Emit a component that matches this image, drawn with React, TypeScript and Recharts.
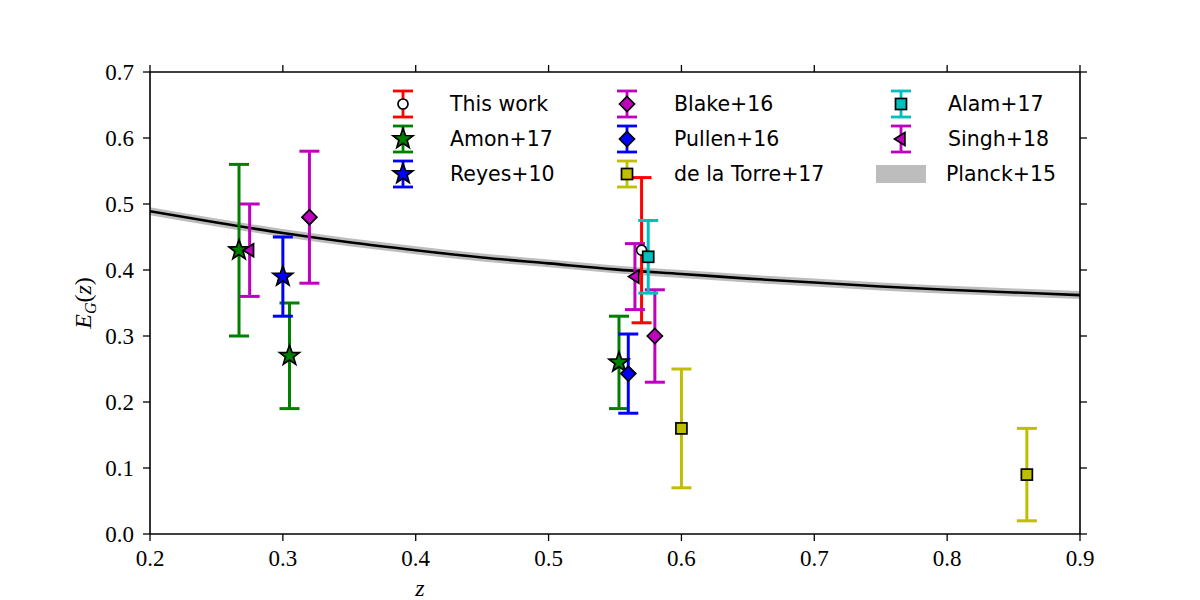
import React from "react";
import { ComposedChart, Scatter, ErrorBar, Line, Area, XAxis, YAxis } from "recharts";

// E_G(z) measurements, err = [below, above]
const thisWork = [{ z: 0.57, eg: 0.43, err: [0.11, 0.11] }];
const amon17 = [
  { z: 0.267, eg: 0.43, err: [0.13, 0.13] },
  { z: 0.305, eg: 0.27, err: [0.08, 0.08] },
  { z: 0.553, eg: 0.26, err: [0.07, 0.07] },
];
const reyes10 = [{ z: 0.3, eg: 0.39, err: [0.06, 0.06] }];
const blake16 = [
  { z: 0.32, eg: 0.48, err: [0.1, 0.1] },
  { z: 0.58, eg: 0.3, err: [0.07, 0.07] },
];
const pullen16 = [{ z: 0.56, eg: 0.243, err: [0.06, 0.06] }];
const delaTorre17 = [
  { z: 0.6, eg: 0.16, err: [0.09, 0.09] },
  { z: 0.86, eg: 0.09, err: [0.07, 0.07] },
];
const alam17 = [{ z: 0.575, eg: 0.42, err: [0.055, 0.055] }];
const singh18 = [
  { z: 0.275, eg: 0.43, err: [0.07, 0.07] },
  { z: 0.565, eg: 0.39, err: [0.05, 0.05] },
];

// Planck+15 prediction
const planckZ = [0.2, 0.25, 0.3, 0.35, 0.4, 0.45, 0.5, 0.55, 0.6, 0.65, 0.7, 0.75, 0.8, 0.85, 0.9];
const planckEg = [0.489, 0.472, 0.456, 0.442, 0.43, 0.419, 0.41, 0.401, 0.394, 0.387, 0.381, 0.375, 0.37, 0.366, 0.362];
const planckHalfWidth = 0.006;

const xTicks = [0.2, 0.3, 0.4, 0.5, 0.6, 0.7, 0.8, 0.9];
const yTicks = [0, 0.1, 0.2, 0.3, 0.4, 0.5, 0.6, 0.7];

const planck = planckZ.map((z, i) => ({
  z,
  eg: planckEg[i],
  band: [planckEg[i] - planckHalfWidth, planckEg[i] + planckHalfWidth],
}));

const C = {
  red: "#ff0000",
  green: "#008000",
  blue: "#0000ff",
  magenta: "#bf00bf",
  yellow: "#bfbf00",
  cyan: "#00bfbf",
  band: "#bdbdbd",
};

type Kind = "circle" | "star" | "diamond" | "square" | "tri";

function Marker({ kind, x, y, fill }: { kind: Kind; x: number; y: number; fill: string }) {
  const sw = 1.7;
  if (kind === "circle") return <circle cx={x} cy={y} r={5} fill="#fff" stroke="#000" strokeWidth={sw} />;
  if (kind === "square")
    return <rect x={x - 5.5} y={y - 5.5} width={11} height={11} fill={fill} stroke="#000" strokeWidth={sw} />;
  if (kind === "diamond") {
    const s = 7.5;
    return (
      <polygon points={`${x},${y - s} ${x + s},${y} ${x},${y + s} ${x - s},${y}`} fill={fill} stroke="#000" strokeWidth={sw} />
    );
  }
  if (kind === "tri") {
    const s = 6.5;
    return (
      <polygon points={`${x - s},${y} ${x + s * 0.6},${y - s} ${x + s * 0.6},${y + s}`} fill={fill} stroke="#000" strokeWidth={sw} />
    );
  }
  const pts: string[] = [];
  for (let i = 0; i < 10; i++) {
    const r = i % 2 === 0 ? 10.5 : 4.3;
    const a = -Math.PI / 2 + (i * Math.PI) / 5;
    pts.push(`${x + r * Math.cos(a)},${y + r * Math.sin(a)}`);
  }
  return <polygon points={pts.join(" ")} fill={fill} stroke="#000" strokeWidth={sw} strokeLinejoin="miter" />;
}

const series: { name: string; data: typeof thisWork; color: string; kind: Kind }[] = [
  { name: "This work", data: thisWork, color: C.red, kind: "circle" },
  { name: "Amon+17", data: amon17, color: C.green, kind: "star" },
  { name: "Reyes+10", data: reyes10, color: C.blue, kind: "star" },
  { name: "Blake+16", data: blake16, color: C.magenta, kind: "diamond" },
  { name: "Pullen+16", data: pullen16, color: C.blue, kind: "diamond" },
  { name: "de la Torre+17", data: delaTorre17, color: C.yellow, kind: "square" },
  { name: "Alam+17", data: alam17, color: C.cyan, kind: "square" },
  { name: "Singh+18", data: singh18, color: C.magenta, kind: "tri" },
];

const serif = "'Liberation Serif', 'DejaVu Serif', serif";
const sans = "'DejaVu Sans', sans-serif";
const noLabel = () => <g />;

const XTick = (p: any) => (
  <text x={p.x} y={p.y + 21} textAnchor="middle" fontFamily={serif} fontSize={23} fill="#000">
    {Number(p.payload.value).toFixed(1)}
  </text>
);
const YTick = (p: any) => (
  <text x={p.x} y={p.y + 8} textAnchor="end" fontFamily={serif} fontSize={23} fill="#000">
    {Number(p.payload.value).toFixed(1)}
  </text>
);

function LegendIcon({ x, y, color, kind }: { x: number; y: number; color: string; kind: Kind }) {
  return (
    <g>
      <line x1={x} y1={y - 13} x2={x} y2={y + 13} stroke={color} strokeWidth={2.8} />
      <line x1={x - 10} y1={y - 13} x2={x + 10} y2={y - 13} stroke={color} strokeWidth={2.8} />
      <line x1={x - 10} y1={y + 13} x2={x + 10} y2={y + 13} stroke={color} strokeWidth={2.8} />
      <Marker kind={kind} x={x} y={y} fill={color} />
    </g>
  );
}

const axisLine = { stroke: "#000", strokeWidth: 1.6 };
const tickLine = { stroke: "#000", strokeWidth: 1.3 };

export default function App() {
  const cols = [403, 627, 901];
  const rows = [104, 139, 174];
  return (
    <div style={{ position: "absolute", left: 0, top: 0, width: 1200, height: 600, background: "#fff" }}>
      <style>{`
        .chart svg.recharts-surface line:not(.recharts-cartesian-axis-line):not(.recharts-cartesian-axis-tick-line) {
          stroke-width: 3px !important;
        }
      `}</style>
      <div className="chart">
        <ComposedChart
          width={1200}
          height={600}
          data={planck}
          margin={{ top: 71, right: 119, bottom: 16, left: 90 }}
        >
          <XAxis
            xAxisId="b"
            dataKey="z"
            type="number"
            domain={[0.2, 0.9]}
            ticks={xTicks}
            allowDataOverflow
            height={50}
            tickSize={7}
            tickMargin={4}
            tick={XTick}
            axisLine={axisLine}
            tickLine={tickLine}
          />
          <XAxis
            xAxisId="t"
            orientation="top"
            dataKey="z"
            type="number"
            domain={[0.2, 0.9]}
            ticks={xTicks}
            allowDataOverflow
            height={1}
            tickSize={7}
            tick={noLabel}
            axisLine={axisLine}
            tickLine={tickLine}
          />
          <YAxis
            yAxisId="l"
            type="number"
            domain={[0, 0.7]}
            ticks={yTicks}
            allowDataOverflow
            width={60}
            tickSize={7}
            tickMargin={9}
            tick={YTick}
            axisLine={axisLine}
            tickLine={tickLine}
          />
          <YAxis
            yAxisId="r"
            orientation="right"
            type="number"
            domain={[0, 0.7]}
            ticks={yTicks}
            allowDataOverflow
            width={1}
            tickSize={7}
            tick={noLabel}
            axisLine={axisLine}
            tickLine={tickLine}
          />
          <Area
            xAxisId="b"
            yAxisId="l"
            dataKey="band"
            type="monotone"
            stroke="none"
            fill={C.band}
            fillOpacity={1}
            isAnimationActive={false}
          />
          <Line
            xAxisId="b"
            yAxisId="l"
            dataKey="eg"
            type="monotone"
            stroke="#000"
            strokeWidth={2.6}
            dot={false}
            isAnimationActive={false}
          />
          {series.map((s) => (
            <Scatter
              key={s.name}
              name={s.name}
              xAxisId="b"
              yAxisId="l"
              data={s.data}
              dataKey="eg"
              fill={s.color}
              isAnimationActive={false}
              shape={(p: any) => <Marker kind={s.kind} x={p.cx} y={p.cy} fill={s.color} />}
            >
              <ErrorBar dataKey="err" direction="y" width={10} stroke={s.color} strokeWidth={3} />
            </Scatter>
          ))}
        </ComposedChart>
      </div>
      <svg width={1200} height={600} style={{ position: "absolute", left: 0, top: 0, pointerEvents: "none" }}>
        {series.map((s, i) => {
          const x = cols[Math.floor(i / 3)];
          const y = rows[i % 3];
          return (
            <g key={s.name}>
              <LegendIcon x={x} y={y} color={s.color} kind={s.kind} />
              <text x={x + 47} y={y + 7} fontFamily={sans} fontSize={20.5} fill="#000">
                {s.name}
              </text>
            </g>
          );
        })}
        <rect x={876} y={165} width={50} height={18} fill={C.band} />
        <text x={946} y={181} fontFamily={sans} fontSize={20.5} fill="#000">
          Planck+15
        </text>
        <text x={420} y={596} fontFamily={serif} fontStyle="italic" fontSize={24} textAnchor="middle" fill="#000">
          z
        </text>
        <text
          transform="translate(91,303) rotate(-90)"
          fontFamily={serif}
          fontSize={24}
          textAnchor="middle"
          fill="#000"
        >
          <tspan fontStyle="italic">E</tspan>
          <tspan fontStyle="italic" fontSize={16} dy={5}>G</tspan>
          <tspan dy={-5}>(</tspan>
          <tspan fontStyle="italic">z</tspan>
          <tspan>)</tspan>
        </text>
      </svg>
    </div>
  );
}
